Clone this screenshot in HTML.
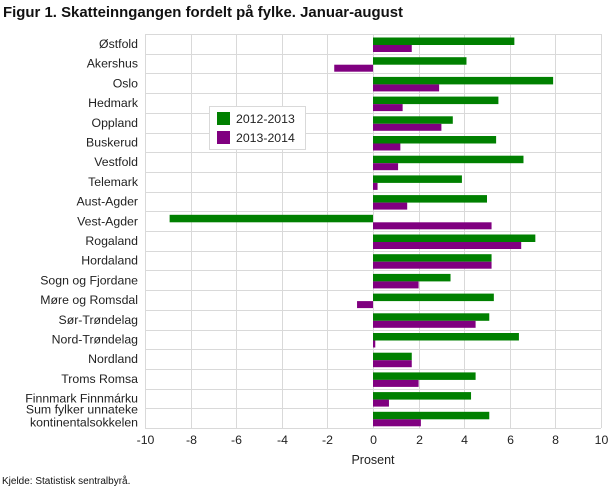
<!DOCTYPE html>
<html><head><meta charset="utf-8"><style>
body{margin:0;background:#fff;}
svg{display:block;font-family:"Liberation Sans","DejaVu Sans",sans-serif;}
</style></head><body>
<svg width="610" height="488" viewBox="0 0 610 488" xmlns="http://www.w3.org/2000/svg">
<text x="3" y="17" font-size="14.5" font-weight="bold" fill="#111" textLength="400" lengthAdjust="spacingAndGlyphs">Figur 1. Skatteinngangen fordelt på fylke. Januar-august</text>
<g id="grid" stroke="#d9d9d9" stroke-width="1"></g>
<g id="bars"></g>
<g id="labels" font-size="12.3" fill="#222" text-anchor="end"></g>
<g id="ticks" font-size="12.3" fill="#222" text-anchor="middle"></g>
<text x="373" y="464" font-size="12.5" fill="#222" text-anchor="middle">Prosent</text>
<text x="2" y="484" font-size="10" fill="#111">Kjelde: Statistisk sentralbyrå.</text>
<rect x="209.5" y="106.5" width="96" height="43" fill="#fff" stroke="#d9d9d9"/>
<rect x="217" y="112" width="13" height="13" fill="#008000"/>
<rect x="217" y="131" width="13" height="13" fill="#800080"/>
<text x="236" y="123" font-size="12.3" fill="#222">2012-2013</text>
<text x="236" y="142" font-size="12.3" fill="#222">2013-2014</text>
<script>
var d=[["Østfold",6.2,1.7],["Akershus",4.1,-1.7],["Oslo",7.9,2.9],["Hedmark",5.5,1.3],["Oppland",3.5,3.0],["Buskerud",5.4,1.2],["Vestfold",6.6,1.1],["Telemark",3.9,0.2],["Aust-Agder",5.0,1.5],["Vest-Agder",-8.92,5.2],["Rogaland",7.12,6.5],["Hordaland",5.2,5.2],["Sogn og Fjordane",3.4,2.0],["Møre og Romsdal",5.3,-0.7],["Sør-Trøndelag",5.1,4.5],["Nord-Trøndelag",6.4,0.1],["Nordland",1.7,1.7],["Troms Romsa",4.5,2.0],["Finnmark Finnmárku",4.3,0.7],["Sum fylker unnateke|kontinentalsokkelen",5.1,2.1]];
var NS="http://www.w3.org/2000/svg",L=145,R=601,T=34,B=428,rh=(B-T)/20,sc=(R-L)/20,z=L+10*sc;
function el(p,t,a,txt){var e=document.createElementNS(NS,t);for(var k in a)e.setAttribute(k,a[k]);if(txt!=null)e.textContent=txt;document.getElementById(p).appendChild(e);}
for(var i=0;i<=20;i++){var y=Math.round(T+i*rh)+0.5;el("grid","line",{x1:L,x2:R,y1:y,y2:y});}
for(var j=0;j<=10;j++){var x=Math.round(L+j*2*sc)+0.5;el("grid","line",{x1:x,x2:x,y1:T,y2:B});el("ticks","text",{x:x,y:444},String(-10+2*j));}
d.forEach(function(r,i){var t=T+i*rh;
 var g=r[1],p=r[2];
 el("bars","rect",{x:Math.min(z,z+g*sc),y:t+3.5,width:Math.abs(g*sc),height:7.5,fill:"#008000"});
 el("bars","rect",{x:Math.min(z,z+p*sc),y:t+11,width:Math.abs(p*sc),height:7,fill:"#800080"});
 var parts=r[0].split("|");
 if(parts.length==1)el("labels","text",{x:138,y:t+14},parts[0]);
 else{el("labels","text",{x:138,y:t+5},parts[0]);el("labels","text",{x:138,y:t+18},parts[1]);}
});
</script>
</svg>
</body></html>
